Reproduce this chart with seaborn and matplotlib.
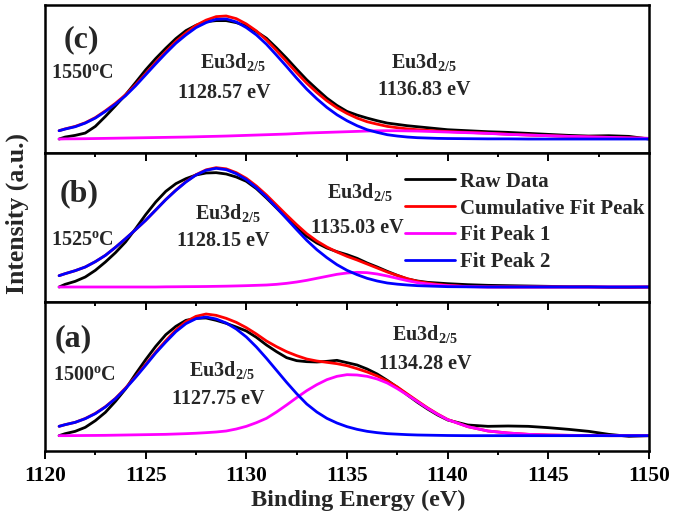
import matplotlib
matplotlib.use("Agg")
import matplotlib.pyplot as plt
from matplotlib.ticker import MultipleLocator
import seaborn as sns
import pandas as pd

# ---------------- data (arbitrary intensity units above baseline) ----
energy = [1120.7, 1121, 1121.5, 1122, 1122.5, 1123, 1123.5, 1124, 1124.5, 1125,
          1125.5, 1126, 1126.5, 1127, 1127.5, 1128, 1128.5, 1129, 1129.5, 1130,
          1130.5, 1131, 1131.5, 1132, 1132.5, 1133, 1133.5, 1134, 1134.5, 1135,
          1135.5, 1136, 1136.5, 1137, 1137.5, 1138, 1138.5, 1139, 1139.5, 1140,
          1141, 1142, 1143, 1144, 1145, 1146, 1147, 1148, 1149, 1150]

# (a) 1500 C
raw_a = [0, 6, 13, 25, 45, 70, 103, 140, 185, 228,
         268, 303, 328, 346, 352, 353, 346, 337, 326, 314,
         295, 272, 252, 234, 225, 222, 221, 223, 226, 219,
         212, 200, 185, 166, 145, 122, 100, 80, 62, 47,
         32, 28, 29, 28, 24, 19, 13, 4, -2, 0]
cum_a = [28, 33, 40, 51.5, 67, 87, 112, 143, 177, 214,
         251, 285, 317, 342, 358, 365, 361, 352, 340, 324,
         305, 284, 267, 252, 240, 230, 224, 220, 216, 210,
         201, 191, 179, 164, 146, 125, 104, 83.5, 65, 48.5,
         27, 14, 8, 4, 2, 1, 0.5, 0, 0, 0]
peak1_a = [0, 0, 0.2, 0.5, 0.7, 1, 1.5, 2, 2.5, 3,
           3.5, 4, 5, 6, 7.3, 9, 11, 14, 20, 28,
           39, 52, 71, 92, 114, 135, 153, 168, 178, 183,
           182, 178, 170, 158, 141, 122, 102, 82, 64, 48,
           27, 14, 8, 4, 2, 1, 0.5, 0, 0, 0]
peak2_a = [28, 33, 40, 51, 66, 86, 111, 141, 175, 211,
           248, 281, 312, 336, 351, 356, 350, 338, 320, 296,
           266, 232, 196, 160, 126, 95, 71, 52, 38, 27,
           19, 13, 9, 6, 4.5, 3, 2, 1.5, 1, 0.5,
           0, 0, 0, 0, 0, 0, 0, 0, 0, 0]

# (b) 1525 C
raw_b = [0, 8, 17, 30, 50, 75, 103, 135, 175, 217,
         255, 287, 310, 325, 336, 342, 343, 339, 330, 317,
         295, 267, 237, 207, 178, 152, 132, 117, 106, 97,
         86, 72, 60, 47, 35, 24, 18, 14, 12, 10,
         7, 5, 4, 3, 2, 1, 1, -1, -1, 0]
cum_b = [34, 40, 49, 60, 76, 95, 119, 145, 172, 200,
         231, 262.5, 290.7, 316, 337, 351.5, 358, 354.5, 343, 326,
         303, 276, 246, 216, 187, 160, 138, 120, 105, 92,
         81, 69, 57, 45, 34.5, 25, 17, 12, 8, 5,
         1.5, 0.5, 0, 0, 0, 0, 0, 0, 0, 0]
peak1_b = [0, 0, 0, 0, 0, 0, 0, 0, 0, 0,
           0, 0.5, 0.7, 1, 1.2, 1.5, 2, 2.5, 3.2, 4,
           5, 6, 8, 11, 15, 20, 26, 32, 38, 42,
           44, 43, 39, 33, 26, 19, 13, 9, 6, 4,
           1, 0, 0, 0, 0, 0, 0, 0, 0, 0]
peak2_b = [34, 40, 49, 60, 76, 95, 119, 145, 172, 200,
           231, 262, 290, 315, 336, 350, 356, 352, 340, 322,
           298, 270, 238, 205, 172, 140, 112, 88, 67, 50,
           37, 26, 18, 12, 8.5, 6, 4, 3, 2, 1,
           0.5, 0, 0, 0, 0, 0, 0, 0, 0, 0]

# (c) 1550 C
raw_c = [0, 6, 11, 18, 38, 68, 100, 133, 170, 208,
         242, 273, 302, 326, 342, 353, 356, 356, 350, 340,
         323, 303, 274, 243, 210, 178, 150, 123, 101, 83,
         72, 63, 55, 48, 44, 40, 37, 34, 31, 28,
         25, 22, 20, 17, 14, 11, 9, 10, 8, 0]
cum_c = [25, 30.5, 38, 49, 64.5, 85, 107.5, 133, 163.5, 197,
         230.5, 263, 293.5, 319, 341.7, 357.5, 368, 370, 362, 346,
         325, 298, 266, 233, 199.5, 168, 140, 115, 94, 77,
         63, 52, 44.7, 38, 34, 30.5, 28, 26, 24, 22.5,
         20, 17.5, 14.5, 12, 10, 8, 6.5, 5, 3.5, 2]
peak1_c = [0, 0.5, 0.7, 1, 1.5, 2, 2.5, 3, 3.5, 4,
           4.5, 5, 5.5, 6, 6.7, 7.5, 8.2, 9, 10, 11,
           12, 13, 14, 15, 16.5, 18, 19, 20, 21, 22,
           23, 24, 24.7, 25, 25, 24.5, 24, 23, 22, 21,
           19, 17, 14, 12, 10, 8, 6.5, 5, 3.5, 2]
peak2_c = [25, 30, 37, 48, 63, 83, 105, 130, 160, 193,
           226, 258, 288, 313, 335, 350, 360, 361, 352, 335,
           313, 285, 252, 218, 183, 150, 121, 95, 73, 55,
           40, 28, 20, 13, 9, 6, 4, 3, 2, 1.5,
           1, 0.5, 0.5, 0, 0, 0, 0, 0, 0, 0]

series_names = ["Raw Data", "Cumulative Fit Peak", "Fit Peak 1", "Fit Peak 2"]
series_colors = ["#000000", "#ff0000", "#ff00ff", "#0000ff"]

panel_labels = ["(c)", "(b)", "(a)"]
temperatures = ["1550", "1525", "1500"]
left_peaks = ["1128.57 eV", "1128.15 eV", "1127.75 eV"]
right_peaks = ["1136.83 eV", "1135.03 eV", "1134.28 eV"]

# ---------------- style ----------------
sns.set_theme(style="ticks")
plt.rcParams["font.family"] = ["Liberation Serif", "DejaVu Serif"]
plt.rcParams["font.weight"] = "bold"
plt.rcParams["mathtext.fontset"] = "custom"
plt.rcParams["mathtext.rm"] = "Liberation Serif:bold"
plt.rcParams["mathtext.bf"] = "Liberation Serif:bold"
plt.rcParams["mathtext.it"] = "Liberation Serif:bold:italic"
plt.rcParams["xtick.color"] = "black"

W, H = 675, 520
fig = plt.figure(figsize=(W / 100, H / 100), dpi=100)
fig.patch.set_facecolor("white")

x0, x1 = 45, 649
panel_px = [(5, 153), (153, 302), (302, 451)]
ylims = [(-42, 403), (-45, 402), (-46, 401)]
panel_data = [
    [raw_c, cum_c, peak1_c, peak2_c],
    [raw_b, cum_b, peak1_b, peak2_b],
    [raw_a, cum_a, peak1_a, peak2_a],
]

axes = []
for i, (top, bot) in enumerate(panel_px):
    ax = fig.add_axes([x0 / W, 1 - bot / H, (x1 - x0) / W, (bot - top) / H])
    ax.set_facecolor("white")
    for name, color, vals in zip(series_names, series_colors, panel_data[i]):
        df = pd.DataFrame({"E": energy, "I": vals})
        sns.lineplot(data=df, x="E", y="I", ax=ax, color=color, linewidth=2.0,
                     estimator=None, sort=False,
                     label=name if i == 1 else None, legend=(i == 1))
    ax.set_xlim(1120, 1150)
    ax.set_ylim(*ylims[i])
    ax.set_xlabel("")
    ax.set_ylabel("")
    ax.set_yticks([])
    ax.xaxis.set_major_locator(MultipleLocator(5))
    ax.xaxis.set_minor_locator(MultipleLocator(2.5))
    for s in ax.spines.values():
        s.set_linewidth(1.8)
        s.set_color("black")
    if i == 2:
        ax.tick_params(axis="x", which="both", bottom=True, top=False,
                       direction="out", width=1.4, color="black")
        ax.tick_params(axis="x", which="major", length=5.5, labelbottom=True,
                       labelsize=15.5, pad=5)
        ax.tick_params(axis="x", which="minor", length=3.2)
    else:
        ax.tick_params(axis="x", which="both", bottom=False, top=False,
                       labelbottom=False)
    if i > 0:
        # inward tick marks along the top edge of panels (b) and (a),
        # at the positions produced by the axis locators
        hpx = bot - top
        majors = [v for v in ax.xaxis.get_majorticklocs() if 1120 < v < 1150]
        minors = [v for v in ax.xaxis.get_minorticklocs() if 1120 < v < 1150]
        ax.vlines(majors, 1, 1 - 7.7 / hpx, transform=ax.get_xaxis_transform(),
                  colors="black", linewidth=1.4, clip_on=False, zorder=5)
        ax.vlines(minors, 1, 1 - 4.4 / hpx, transform=ax.get_xaxis_transform(),
                  colors="black", linewidth=1.4, clip_on=False, zorder=5)
    axes.append(ax)

for lab in axes[2].get_xticklabels():
    lab.set_fontweight("bold")

# legend in panel (b)
handles, labels = axes[1].get_legend_handles_labels()
axes[1].get_legend().remove()
axes[1].legend(handles, labels, loc="upper left", bbox_to_anchor=(0.596, 0.875),
               frameon=False, borderpad=0, borderaxespad=0, handlelength=2.4,
               handletextpad=0.25, labelspacing=0.33,
               prop={"family": "Liberation Serif", "weight": "bold", "size": 15})


def ftext(x, y, s, size, **kw):
    fig.text(x / W, 1 - y / H, s, fontsize=size, fontweight="bold",
             ha=kw.pop("ha", "center"), va=kw.pop("va", "center"), **kw)


sub = r"Eu3d$_{\mathregular{2/5}}$"

label_pos = [(81, 40), (79, 194), (73, 339)]
temp_pos = [(82, 73), (82, 240), (84, 375)]
left_sub_pos = [(233, 62), (228, 213), (222, 370)]
left_val_pos = [(224, 93), (223, 241), (218, 399)]
right_sub_pos = [(424, 62), (360, 192), (425, 334)]
right_val_pos = [(424, 90), (357, 228), (425, 364)]

for i in range(3):
    ftext(*label_pos[i], panel_labels[i], 23)
    ftext(*temp_pos[i], temperatures[i] + r"$^{\mathregular{o}}$C", 14.5)
    ftext(*left_sub_pos[i], sub, 14.5)
    ftext(*left_val_pos[i], left_peaks[i], 14.5)
    ftext(*right_sub_pos[i], sub, 14.5)
    ftext(*right_val_pos[i], right_peaks[i], 14.5)

ftext(358, 500, "Binding Energy (eV)", 17.5)
ftext(17, 214, "Intensity (a.u.)", 18.5, rotation=90)

fig.savefig("out.png", dpi=100, facecolor="white")
